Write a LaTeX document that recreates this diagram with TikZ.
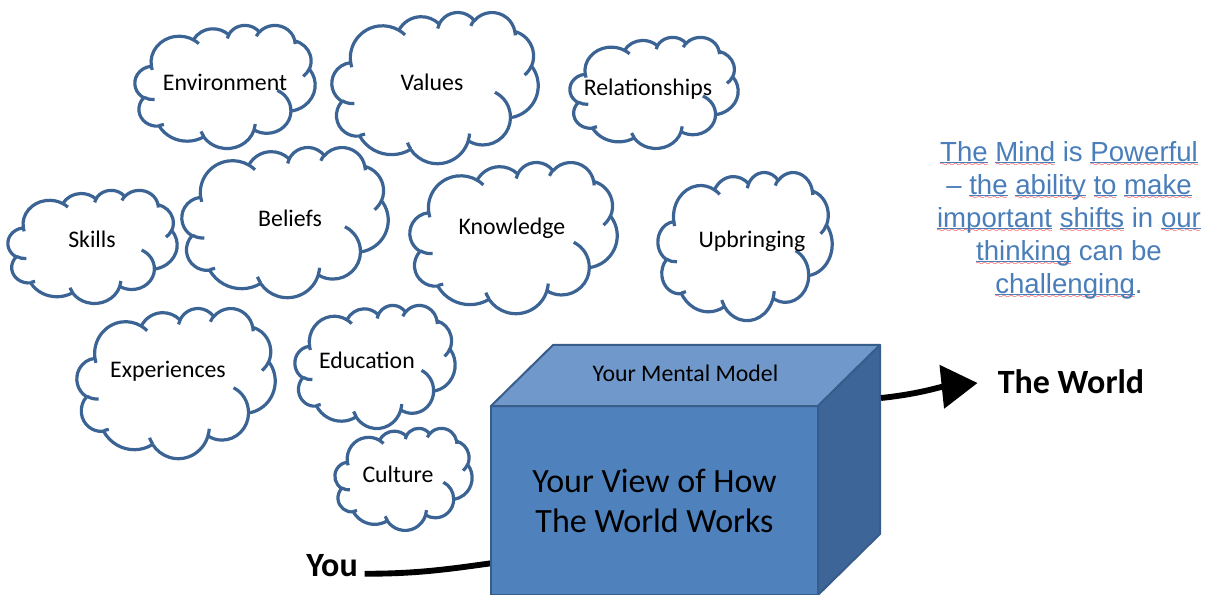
\documentclass[tikz,border=0pt]{standalone}
\usepackage{fontspec}
\setmainfont{Carlito}
\newfontfamily\notefont{Liberation Sans}
\usetikzlibrary{arrows.meta}

\definecolor{cloudedge}{HTML}{3B6494}
\definecolor{boxfront}{HTML}{4F81BD}
\definecolor{boxtop}{HTML}{7098CA}
\definecolor{boxside}{HTML}{3E6598}
\definecolor{boxedge}{HTML}{385D8A}
\definecolor{noteblue}{HTML}{4A7EBB}

% wavy red spelling mark plus a thin underline
\font\wavefont=lasy6
\newcommand\spellmark[1]{\setbox0=\hbox{#1}%
  \rlap{\color{red}\raisebox{-4pt}[0pt][0pt]{\hbox to\wd0{\xleaders\hbox{\wavefont\char58}\hfil}}}%
  \rlap{\rule[-1.6pt]{\wd0}{0.7pt}}#1}

\tikzset{
  cloudline/.style={draw=cloudedge, line width=2.4pt, line join=round},
  cloudtext/.style={font=\fontsize{17.85}{20}\selectfont, inner sep=0pt, text height=11.5pt, text depth=0pt},
  boldtext/.style={font=\fontsize{25.5}{30}\selectfont\bfseries, inner sep=0pt, text height=16.4pt, text depth=0pt},
  thickline/.style={line width=4.4pt, black},
  faceedge/.style={draw=boxedge, line width=1.5pt, line join=round},
  % cloud outline in a 100x100 box, y pointing down
  pics/puff/.style args={#1/#2}{code={
    \begin{scope}[x=#1*0.0075pt, y=-#2*0.0075pt]
      \draw[cloudline, fill=white] (9.03,33.26)
        arc[start angle=-187.75, end angle=-59.64, x radius=15.63, y radius=21.27]
        arc[start angle=-152.02, end angle=-45.45, x radius=12.34, y radius=16.82]
        arc[start angle=-153.49, end angle=-37.33, x radius=10.10, y radius=13.76]
        arc[start angle=-139.73, end angle=-10.22, x radius=11.24, y radius=15.27]
        arc[start angle=-74.77, end angle=23.21, x radius=12.34, y radius=16.84]
        arc[start angle=-37.53, end angle=81.86, x radius=15.68, y radius=21.34]
        arc[start angle=0.46, end angle=121.98, x radius=13.39, y radius=18.21]
        arc[start angle=16.84, end angle=146.24, x radius=15.63, y radius=21.33]
        arc[start angle=58.98, end angle=150.20, x radius=17.87, y radius=24.41]
        arc[start angle=83.31, end angle=223.12, x radius=10.09, y radius=13.70]
        arc[start angle=120.34, end angle=264.11, x radius=10.06, y radius=13.76]
        -- cycle;
      % inner creases
      \draw[cloudline]
        (10.86,60.59) arc[start angle=85.54, end angle=120.34, x radius=10.06, y radius=13.76]
        (16.04,80.78) arc[start angle=68.23, end angle=83.31, x radius=10.09, y radius=13.70]
        (38.14,90.49) arc[start angle=146.24, end angle=158.47, x radius=15.63, y radius=21.33]
        (66.73,80.44) arc[start angle=4.73, end angle=16.84, x radius=15.63, y radius=21.33]
        (79.00,53.13) arc[start angle=-64.02, end angle=0.46, x radius=13.39, y radius=18.21]
        (96.75,35.54) arc[start angle=23.21, end angle=49.65, x radius=12.34, y radius=16.84]
        (88.71,12.56) arc[start angle=-10.22, end angle=0.82, x radius=11.24, y radius=15.27]
        (67.31,9.15) arc[start angle=-156.30, end angle=-139.73, x radius=11.24, y radius=15.27]
        (51.25,10.93) arc[start angle=-167.72, end angle=-153.49, x radius=10.10, y radius=13.76]
        (32.41,12.02) arc[start angle=-59.64, end angle=-45.74, x radius=15.63, y radius=21.27]
        (9.55,36.55) arc[start angle=163.19, end angle=172.25, x radius=15.63, y radius=21.27];
    \end{scope}
  }},
}

\begin{document}
\begin{tikzpicture}[x=0.75pt, y=-0.75pt]

	\fill[white] (0,0) rectangle (1207,595);
	\useasboundingbox (0,0) rectangle (1207,595);

	% Clouds
	\pic at (135,25) {puff={180/123}};
	\pic at (332,12) {puff={206/151}};
	\pic at (570,37) {puff={168/111}};
	\pic at (8,190) {puff={169/113}};
	\pic at (182,147) {puff={206/150}};
	\pic at (410,162) {puff={207/151}};
	\pic at (658,172) {puff={174/148}};
	\pic at (77,308) {puff={198/150}};
	\pic at (295,305) {puff={160/123}};
	\pic at (335,428) {puff={137/102}};

	\node[cloudtext] (environment) at (225,83) {Environment};
	\node[cloudtext] (values) at (432,83) {Values};
	\node[cloudtext] (relationships) at (648,88) {Relationships};
	\node[cloudtext] (skills) at (92,240) {Skills};
	\node[cloudtext] (beliefs) at (290,219) {Beliefs};
	\node[cloudtext] (knowledge) at (512,227) {Knowledge};
	\node[cloudtext] (upbringing) at (752,240) {Upbringing};
	\node[cloudtext] (experiences) at (168,370) {Experiences};
	\node[cloudtext] (education) at (367,361) {Education};
	\node[cloudtext] (culture) at (398,475) {Culture};

	% You and the line into the box
	\node[boldtext] (you) at (332,566) {You};
	\coordinate (boxin) at (500,562);
	\draw[thickline] ([xshift=5pt]you.mid east) to[out=0, in=188] (boxin);

	% The box
	\node[faceedge, fill=boxfront, minimum width=245.25pt, minimum height=141.75pt,
		inner sep=0pt, outer sep=0pt, align=center,
		font=\fontsize{25.5}{30}\selectfont] (front) at (654.5,500.5) {Your View of How\\The World Works};
	\filldraw[faceedge, fill=boxtop] (front.north west) -- ++(62,-61) -- ++(327,0) -- (front.north east) -- cycle;
	\filldraw[faceedge, fill=boxside] (front.north east) -- ++(62,-61) -- ++(0,189) -- (front.south east) -- cycle;
	\node[cloudtext] (mentalmodel) at (685.5,374) {Your Mental Model};

	% Out to the world
	\node[boldtext] (world) at (1071,383) {The World};
	\coordinate (boxout) at (881,398);
	\draw[thickline, -{Triangle[length=27pt, width=32pt]}] (boxout) to[out=6, in=186] ([xshift=-15pt]world.west);

	% Note on the right
	\node[align=center, text=noteblue, inner sep=0pt,
		font=\notefont\fontsize{20.7}{24.8}\selectfont] (mindnote) at (1069,220)
		{\spellmark{The} \spellmark{Mind} is \spellmark{Powerful}\\
		 – \spellmark{the} \spellmark{ability} \spellmark{to} \spellmark{make}\\
		 \spellmark{important} \spellmark{shifts} in \spellmark{our}\\
		 \spellmark{thinking} can be\\
		 \spellmark{challenging}.};

\end{tikzpicture}
\end{document}
